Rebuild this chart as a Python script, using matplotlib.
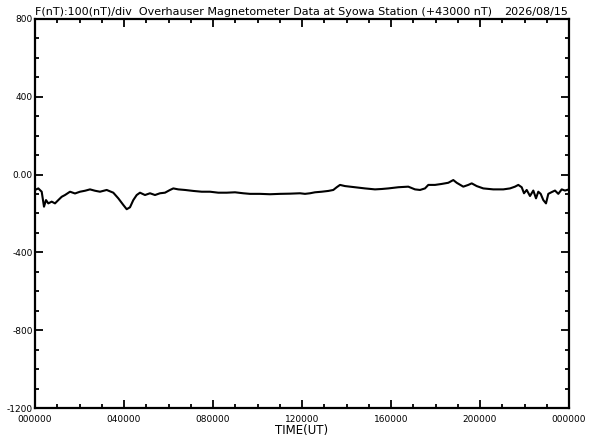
import matplotlib
matplotlib.use("Agg")
import matplotlib.pyplot as plt
from matplotlib.ticker import FixedLocator, MultipleLocator, FixedFormatter

# Pixel-read x positions converted to hours (UT)
x_px = [35, 38.3, 41.7, 44, 46, 48.3, 51.7, 55, 58.3, 61.7, 65, 70, 75, 80, 85, 90, 95, 100,
        106.7, 113.3, 118.3, 123.3, 126.7, 130, 133.3, 136.7, 140, 145, 150, 155, 160, 165,
        170, 173.3, 178.3, 185, 193.3, 201.7, 210, 218.3, 226.7, 235, 243.3, 250, 260, 270,
        280, 290, 300, 305, 310, 315, 321.7, 328.3, 333.3, 336.7, 340, 345, 350, 355, 365,
        375, 381.7, 388.3, 398.3, 408.3, 415, 420, 425, 428.3, 435, 441.7, 448.3, 453.3,
        456.7, 463.3, 468.3, 471.7, 476.7, 483.3, 493.3, 503.3, 510, 515, 518.3, 521.7,
        524, 526.7, 530, 533.3, 536, 538.3, 540.7, 543.3, 546, 548.3, 551.7, 555, 558.3,
        561.7, 565, 569]
field_nT = [-79, -71, -88, -165, -131, -148, -139, -148, -131, -114, -105, -88, -97, -88, -83,
            -76, -83, -88, -79, -93, -122, -156, -178, -168, -131, -105, -93, -105, -96, -105,
            -96, -93, -79, -71, -76, -79, -84, -88, -88, -93, -93, -91, -96, -99, -99, -101,
            -99, -98, -96, -99, -96, -91, -88, -84, -79, -65, -53, -59, -62, -65, -71, -76,
            -74, -71, -65, -62, -76, -79, -71, -53, -53, -48, -42, -28, -42, -62, -53, -45,
            -59, -71, -76, -76, -71, -62, -53, -65, -96, -79, -110, -82, -122, -88, -99, -131,
            -148, -99, -90, -82, -99, -76, -82, -76]
hours = [(p - 35) / 22.25 for p in x_px]

y_ticks = [800, 400, 0, -400, -800, -1200]
y_labels = ["800", "400", "0.00", "-400", "-800", "-1200"]
x_ticks = [0, 4, 8, 12, 16, 20, 24]
x_labels = ["000000", "040000", "080000", "120000", "160000", "200000", "000000"]

title_left = "F(nT):100(nT)/div  Overhauser Magnetometer Data at Syowa Station (+43000 nT)"
title_right = "2026/08/15"

fig = plt.figure(figsize=(5.92, 4.40), dpi=100)
ax = fig.add_axes([35/592, 1-408/440, (569-35)/592, (408-19)/440])
ax.plot(hours, field_nT, color="black", lw=1.5)
ax.set_xlim(0, 24)
ax.set_ylim(-1200, 800)

ax.yaxis.set_major_locator(FixedLocator(y_ticks))
ax.yaxis.set_major_formatter(FixedFormatter(y_labels))
ax.yaxis.set_minor_locator(MultipleLocator(100))
ax.xaxis.set_major_locator(FixedLocator(x_ticks))
ax.xaxis.set_major_formatter(FixedFormatter(x_labels))
ax.xaxis.set_minor_locator(MultipleLocator(1))

ax.tick_params(which="both", direction="in", top=True, right=True, width=1.3, color="black")
ax.tick_params(which="major", length=6, labelsize=6.5)
ax.tick_params(axis="y", which="major", pad=1.5)
ax.tick_params(axis="x", which="major", pad=5)
ax.tick_params(which="minor", length=3)
for s in ax.spines.values():
    s.set_linewidth(1.6)

ax.set_xlabel("TIME(UT)", fontsize=8.5, labelpad=0)
fig.text(35/592, 1-15/440, title_left, fontsize=8, ha="left", va="baseline")
fig.text(568/592, 1-15/440, title_right, fontsize=8, ha="right", va="baseline")

fig.savefig("out.png", dpi=100)
